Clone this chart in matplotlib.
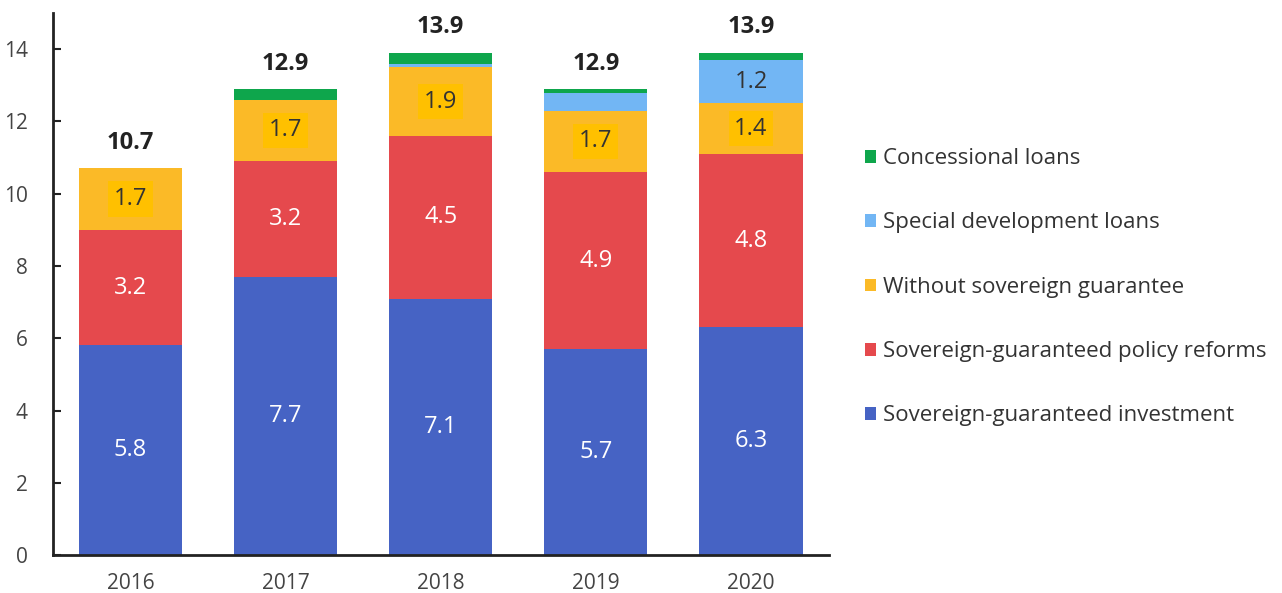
from matplotlib import pyplot as plt
import numpy as np

years = ["2016", "2017", "2018", "2019", "2020"]
series_names = [
    "Sovereign-guaranteed investment",
    "Sovereign-guaranteed policy reforms",
    "Without sovereign guarantee",
    "Special development loans",
    "Concessional loans",
]
investment = [5.8, 7.7, 7.1, 5.7, 6.3]
policy_reforms = [3.2, 3.2, 4.5, 4.9, 4.8]
without_guarantee = [1.7, 1.7, 1.9, 1.7, 1.4]
special_loans = [0.0, 0.0, 0.1, 0.5, 1.2]
concessional = [0.0, 0.3, 0.3, 0.1, 0.2]
totals = [10.7, 12.9, 13.9, 12.9, 13.9]

colors = ["#4663C4", "#E5494D", "#FBBA27", "#72B6F4", "#0EA64C"]
text_colors = ["white", "white", "#333333", "#333333", "#333333"]

plt.rcParams["font.family"] = ["Open Sans", "DejaVu Sans"]

fig = plt.figure(figsize=(12.82, 5.93), dpi=100)
ax = fig.add_axes([0.0413, 0.064, 0.605, 0.914])

x = np.arange(len(years))
data = [investment, policy_reforms, without_guarantee, special_loans, concessional]
bottom = np.zeros(len(years))
handles = []
for values, name, color, tcolor in zip(data, series_names, colors, text_colors):
    values = np.array(values)
    bars = ax.bar(x, values, 0.665, bottom=bottom, color=color, label=name)
    handles.append(bars)
    for xi, v, b in zip(x, values, bottom):
        if v >= 1:
            box = None
            if color == "#FBBA27":
                box = dict(facecolor="#FFC000", edgecolor="none", pad=4)
            ax.text(xi, b + v / 2, f"{v:.1f}", ha="center", va="center",
                    fontsize=17, color=tcolor, bbox=box)
    bottom += values

for xi, t in zip(x, totals):
    ax.text(xi, t + 0.7, f"{t:.1f}", ha="center", va="center",
            fontsize=17, fontweight="bold", color="#222222")

ax.set_xlim(-0.5, 4.5)
ax.set_ylim(0, 15)
ax.set_yticks(range(0, 15, 2))
ax.set_xticks(x)
ax.set_xticklabels(years)
ax.tick_params(axis="x", length=0, pad=13, labelsize=15, labelcolor="#444444")
ax.tick_params(axis="y", direction="in", length=6, width=1.5, color="#222222",
               pad=18, labelsize=15, labelcolor="#444444")
for side in ["top", "right"]:
    ax.spines[side].set_visible(False)
for side in ["left", "bottom"]:
    ax.spines[side].set_linewidth(2)
    ax.spines[side].set_color("#222222")

# legend, top entry first
fig.legend(handles[::-1], series_names[::-1], loc="upper left",
           bbox_to_anchor=(0.659, 0.784), frameon=False, fontsize=16,
           handlelength=0.5, handleheight=0.5, handletextpad=0.3,
           labelspacing=1.95, labelcolor="#333333")

fig.savefig("out.png", dpi=100)
